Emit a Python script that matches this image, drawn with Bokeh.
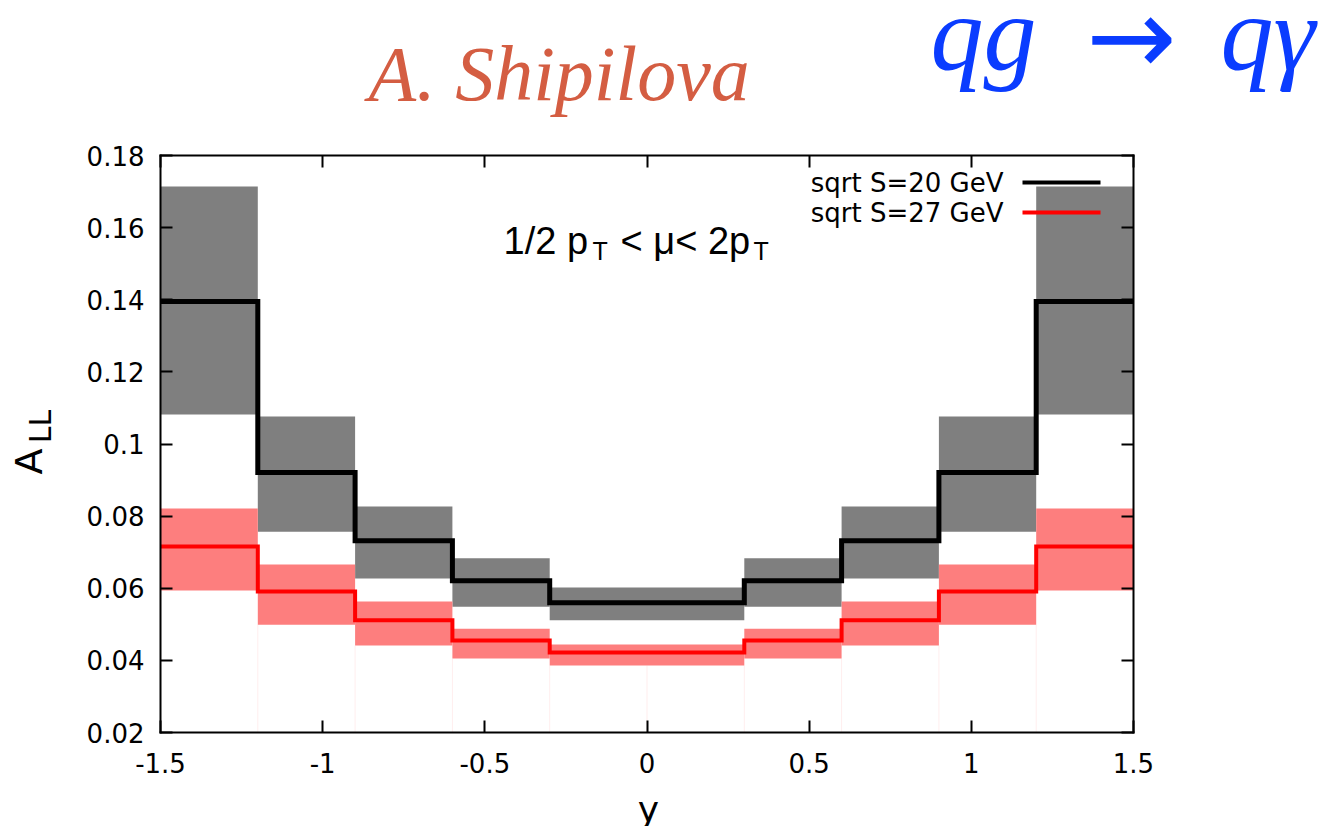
import numpy as np
from bokeh.plotting import figure
from bokeh.models import Range1d, FixedTicker, LinearAxis, Label
from bokeh.embed import file_html
from bokeh.resources import INLINE

# ---------------- data ----------------
bin_edges = [-1.5, -1.2, -0.9, -0.6, -0.3, 0.0, 0.3, 0.6, 0.9, 1.2, 1.5]

# sqrt S = 20 GeV (black)
s20_central = [0.1395, 0.0921, 0.0732, 0.0621, 0.0560, 0.0560, 0.0621, 0.0732, 0.0921, 0.1395]
s20_low     = [0.1082, 0.0757, 0.0627, 0.0549, 0.0511, 0.0511, 0.0549, 0.0627, 0.0757, 0.1082]
s20_high    = [0.1714, 0.1076, 0.0827, 0.0683, 0.0602, 0.0602, 0.0683, 0.0827, 0.1076, 0.1714]

# sqrt S = 27 GeV (red)
s27_central = [0.0716, 0.0591, 0.0511, 0.0455, 0.0422, 0.0422, 0.0455, 0.0511, 0.0591, 0.0716]
s27_low     = [0.0594, 0.0499, 0.0441, 0.0405, 0.0386, 0.0386, 0.0405, 0.0441, 0.0499, 0.0594]
s27_high    = [0.0821, 0.0666, 0.0563, 0.0488, 0.0444, 0.0444, 0.0488, 0.0563, 0.0666, 0.0821]

x_ticks = [-1.5, -1.0, -0.5, 0.0, 0.5, 1.0, 1.5]
x_tick_labels = ["-1.5", "-1", "-0.5", "0", "0.5", "1", "1.5"]
y_ticks = [0.02, 0.04, 0.06, 0.08, 0.10, 0.12, 0.14, 0.16, 0.18]
y_tick_labels = ["0.02", "0.04", "0.06", "0.08", "0.1", "0.12", "0.14", "0.16", "0.18"]

series_labels = ["sqrt S=20 GeV", "sqrt S=27 GeV"]

# ---------------- layout ----------------
W, H = 1328, 826
FL, FR, FT, FB = 160, 1133, 155, 732      # plot box in page pixels
X0, X1 = -1.5, 1.5
Y0, Y1 = 0.02, 0.18


def sx(px):
    return X0 + (px - FL) / (FR - FL) * (X1 - X0)


def sy(py):
    return Y0 + (FB - py) / (FB - FT) * (Y1 - Y0)


# the frame spans the whole page; the plot box is drawn by four fixed axes
p = figure(width=W, height=H, output_backend="svg", toolbar_location=None,
           x_range=Range1d(sx(0), sx(W)), y_range=Range1d(sy(H), sy(0)),
           x_axis_location=None, y_axis_location=None, min_border=0)
p.background_fill_color = "white"
p.border_fill_color = "white"
p.outline_line_color = None
p.xgrid.grid_line_color = None
p.ygrid.grid_line_color = None

TICK_FONT = "DejaVu Sans"


def add_axis(side, fixed, bounds, ticks, labels, show_labels, standoff):
    ax = LinearAxis(fixed_location=fixed, bounds=bounds)
    ax.ticker = FixedTicker(ticks=ticks)
    if show_labels:
        ax.major_label_overrides = {t: l for t, l in zip(ticks, labels)}
    else:
        ax.major_label_overrides = {t: "" for t in ticks}
    ax.major_label_text_font = TICK_FONT
    ax.major_label_text_font_size = "26px"
    ax.major_label_text_color = "black"
    ax.major_label_standoff = standoff
    ax.axis_line_color = "black"
    ax.axis_line_width = 2
    ax.axis_line_cap = "square"
    ax.major_tick_in = 12
    ax.major_tick_out = 0
    ax.major_tick_line_width = 2
    ax.major_tick_line_color = "black"
    ax.minor_tick_line_color = None
    p.add_layout(ax, side)
    return ax


left = bin_edges[:-1]
right = bin_edges[1:]

# faint vertical edge artifacts
inner = bin_edges[1:-1]
edge_top = [min(s27_low[i], s27_low[i + 1]) for i in range(len(inner))]
p.segment(x0=inner, y0=[Y0] * len(inner), x1=inner, y1=edge_top,
          line_color="#ff0000", line_alpha=0.07, line_width=1)

# uncertainty bands
p.quad(left=left, right=right, bottom=s20_low, top=s20_high,
       fill_color="#7f7f7f", line_color=None)
p.quad(left=left, right=right, bottom=s27_low, top=s27_high,
       fill_color="#fd7e7e", line_color=None)


def step_xy(edges, vals):
    xs, ys = [], []
    for i, v in enumerate(vals):
        xs += [edges[i], edges[i + 1]]
        ys += [v, v]
    return xs, ys


xs, ys = step_xy(bin_edges, s20_central)
p.line(xs, ys, line_color="black", line_width=5, line_join="miter")
xs, ys = step_xy(bin_edges, s27_central)
p.line(xs, ys, line_color="#ff0000", line_width=4, line_join="miter")

# axes (box)
add_axis("below", Y0, (X0, X1), x_ticks, x_tick_labels, True, 20)
add_axis("above", Y1, (X0, X1), x_ticks, x_tick_labels, False, 2)
add_axis("left", X0, (Y0, Y1), y_ticks, y_tick_labels, True, 16)
add_axis("right", X1, (Y0, Y1), y_ticks, y_tick_labels, False, 2)

# legend (gnuplot style: text then sample)
leg_rows = [(182, "black"), (212, "#ff0000")]
for (py, col), txt in zip(leg_rows, series_labels):
    p.add_layout(Label(x=sx(1003), y=sy(py), text=txt, text_align="right",
                       text_baseline="middle", text_font=TICK_FONT,
                       text_font_size="26px", text_color="black"))
    p.line([sx(1022), sx(1100)], [sy(py), sy(py)], line_color=col, line_width=4)

# annotation 1/2 pT < mu < 2pT
ANN_FONT = "Liberation Sans"


def ann(px, py, txt, size):
    p.add_layout(Label(x=sx(px), y=sy(py), text=txt, text_align="left",
                       text_baseline="alphabetic", text_font=ANN_FONT,
                       text_font_size=size, text_color="black"))


ann(503, 240, "1/2 p", "38px")
ann(592, 250, "T", "25px")
ann(620, 240, "< \u03bc< 2p", "38px")
ann(753, 250, "T", "25px")

# axis titles
p.add_layout(Label(x=sx(28), y=sy(461), text="A", angle=np.pi / 2,
                   text_align="center", text_baseline="alphabetic",
                   text_font=TICK_FONT, text_font_size="38px", text_color="black"))
p.add_layout(Label(x=sx(40), y=sy(426), text="LL", angle=np.pi / 2,
                   text_align="center", text_baseline="alphabetic",
                   text_font=TICK_FONT, text_font_size="30px", text_color="black"))
p.add_layout(Label(x=sx(648), y=sy(809), text="y", text_align="center",
                   text_baseline="alphabetic", text_font=TICK_FONT,
                   text_font_size="36px", text_color="black"))

# slide titles
p.add_layout(Label(x=sx(368), y=sy(73), text="A. Shipilova", text_align="left",
                   text_baseline="alphabetic", text_font="Liberation Serif",
                   text_font_style="italic", text_font_size="78px",
                   text_color="#d45d42"))
p.add_layout(Label(x=sx(930), y=sy(33), text="qg", text_align="left",
                   text_baseline="alphabetic", text_font="Liberation Serif",
                   text_font_style="italic", text_font_size="106px",
                   text_color="#0a3cff"))
p.add_layout(Label(x=sx(1131), y=sy(36), text="\u2192", text_align="center",
                   text_baseline="alphabetic", text_font="DejaVu Sans",
                   text_font_size="108px", text_color="#0a3cff"))
p.add_layout(Label(x=sx(1220), y=sy(33), text="q\u03b3", text_align="left",
                   text_baseline="alphabetic", text_font="Liberation Serif",
                   text_font_style="italic", text_font_size="106px",
                   text_color="#0a3cff"))

open("out.html", "w").write(file_html(p, INLINE))
